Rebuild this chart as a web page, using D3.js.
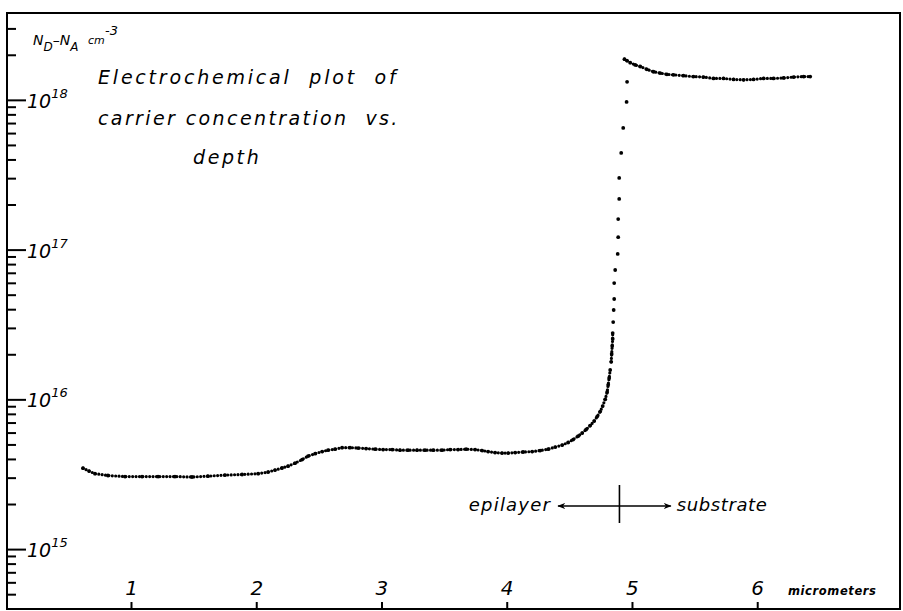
<!DOCTYPE html>
<meta charset="utf-8">

<head>
    <style type="text/css">
        body { margin: 0; background: #fff; }
        text { font-family: "DejaVu Sans", sans-serif; font-style: italic; fill: #000; }
        .frame { fill: none; stroke: #000; stroke-width: 2; }
        .tick line { stroke: #000; stroke-width: 2; }
        .dot { fill: #000; }
        .trace { fill: none; stroke: #000; stroke-width: 3.2; stroke-linecap: round; stroke-dasharray: 0 3.4; }
        .marker-line { stroke: #000; stroke-width: 1.6; fill: none; }
    </style>
</head>

<body>
    <script src="https://cdn.jsdelivr.net/npm/d3@7/dist/d3.min.js"></script>

    <script>
        // depth below surface (micrometers)
        var depth = [
            0.617, 0.665, 0.712, 0.816, 0.952, 1.088, 1.216, 1.351, 1.487, 1.615,
            1.751, 1.887, 2.015, 2.094, 2.150, 2.206, 2.254, 2.310, 2.366, 2.414,
            2.470, 2.526, 2.573, 2.629, 2.685, 2.749, 2.813, 2.877, 2.949, 3.013,
            3.085, 3.148, 3.212, 3.284, 3.348, 3.412, 3.484, 3.548, 3.612, 3.676,
            3.748, 3.804, 3.851, 3.907, 3.963, 4.011, 4.067, 4.131, 4.203, 4.267,
            4.331, 4.387, 4.443, 4.490, 4.530, 4.570, 4.602, 4.634, 4.666, 4.698,
            4.722, 4.746, 4.766,
            4.786, 4.802, 4.810, 4.818, 4.826, 4.834, 4.838, 4.842, 4.846, 4.846,
            4.850, 4.854, 4.858, 4.858, 4.866, 4.886, 4.890, 4.890, 4.898, 4.898,
            4.914, 4.930, 4.957, 4.961,
            4.940, 4.959, 4.986, 5.026, 5.066, 5.119, 5.172, 5.225, 5.279, 5.332,
            5.411, 5.491, 5.571, 5.651, 5.731, 5.811, 5.891, 5.971, 6.051, 6.130,
            6.210, 6.290, 6.370, 6.423
        ];

        // N_D - N_A in cm^-3
        var conc = [
            3.47e15, 3.32e15, 3.19e15, 3.10e15, 3.05e15, 3.05e15, 3.05e15, 3.05e15, 3.03e15, 3.07e15,
            3.12e15, 3.15e15, 3.19e15, 3.27e15, 3.37e15, 3.48e15, 3.58e15, 3.75e15, 3.96e15, 4.18e15,
            4.34e15, 4.48e15, 4.58e15, 4.65e15, 4.76e15, 4.76e15, 4.73e15, 4.69e15, 4.65e15, 4.62e15,
            4.62e15, 4.58e15, 4.58e15, 4.58e15, 4.58e15, 4.58e15, 4.58e15, 4.62e15, 4.62e15, 4.65e15,
            4.62e15, 4.55e15, 4.48e15, 4.41e15, 4.38e15, 4.38e15, 4.41e15, 4.45e15, 4.48e15, 4.55e15,
            4.65e15, 4.80e15, 4.95e15, 5.15e15, 5.39e15, 5.68e15, 5.95e15, 6.29e15, 6.68e15, 7.16e15,
            7.67e15, 8.29e15, 9.02e15,
            1.00e16, 1.12e16, 1.25e16, 1.39e16, 1.57e16, 1.78e16, 2.01e16, 2.27e16, 2.53e16, 2.77e16,
            3.28e16, 3.95e16, 4.68e16, 5.98e16, 7.31e16, 9.35e16, 1.21e17, 1.60e17, 2.18e17, 3.01e17,
            4.42e17, 6.49e17, 9.68e17, 1.32e18,
            1.87e18, 1.83e18, 1.77e18, 1.71e18, 1.67e18, 1.60e18, 1.54e18, 1.51e18, 1.48e18, 1.47e18,
            1.45e18, 1.43e18, 1.42e18, 1.39e18, 1.39e18, 1.37e18, 1.36e18, 1.37e18, 1.39e18, 1.39e18,
            1.40e18, 1.42e18, 1.43e18, 1.43e18
        ];

        var xTicks = [1, 2, 3, 4, 5, 6];
        var decades = [15, 16, 17, 18];
        var titleLines = ["Electrochemical  plot  of", "carrier concentration  vs.", "depth"];
        var junctionDepth = 4.9;      // epilayer / substrate boundary
        var annotationLevel = 1.94e15;

        var W = 903, H = 611;
        var margin = { top: 13, right: 3, bottom: 2, left: 7 };

        var x = d3.scaleLinear()
            .domain([0.01, 7.14])
            .range([margin.left, W - margin.right]);

        var y = d3.scaleLog()
            .domain([Math.pow(10, 14.6), Math.pow(10, 18.58)])
            .range([H - margin.bottom, margin.top]);

        var svg = d3.select("body").append("svg")
            .attr("width", W)
            .attr("height", H);

        // frame
        svg.append("rect")
            .attr("class", "frame")
            .attr("x", margin.left)
            .attr("y", margin.top)
            .attr("width", W - margin.left - margin.right)
            .attr("height", H - margin.top - margin.bottom);

        // minor ticks 2..9 of every decade inside the range
        var minor = [];
        [14, 15, 16, 17, 18].forEach(function (e) {
            for (var m = 2; m <= 9; m++) {
                var v = m * Math.pow(10, e);
                if (y(v) > margin.top + 3 && y(v) < H - margin.bottom - 3) minor.push(v);
            }
        });

        svg.append("g")
            .attr("transform", "translate(" + margin.left + ",0)")
            .call(d3.axisRight(y).tickValues(minor).tickSize(9).tickFormat(""))
            .call(function (g) { g.select(".domain").remove(); });

        var major = decades.map(function (e) { return Math.pow(10, e); });
        svg.append("g")
            .attr("transform", "translate(" + margin.left + ",0)")
            .call(d3.axisRight(y).tickValues(major).tickSize(19).tickFormat(""))
            .call(function (g) { g.select(".domain").remove(); });

        // decade labels 10^n
        var lab = svg.selectAll(".ylab")
            .data(decades)
            .enter().append("text")
            .attr("class", "ylab")
            .attr("x", margin.left + 20)
            .attr("y", function (e) { return y(Math.pow(10, e)) + 8; })
            .style("font-size", "19px");
        lab.append("tspan").text("10");
        lab.append("tspan")
            .attr("dy", -10)
            .style("font-size", "13px")
            .text(function (e) { return e; });

        // x axis: short ticks pointing up, labels above
        svg.append("g")
            .attr("transform", "translate(0," + (H - margin.bottom) + ")")
            .call(d3.axisTop(x).tickValues(xTicks).tickSize(7).tickPadding(7).tickFormat(d3.format("d")))
            .call(function (g) {
                g.select(".domain").remove();
                g.selectAll("text")
                    .style("font-size", "20px")
                    .style("font-family", "'DejaVu Sans', sans-serif")
                    .style("font-style", "italic");
            });

        svg.append("text")
            .attr("x", 788)
            .attr("y", 595)
            .style("font-size", "11.5px")
            .style("font-weight", "bold")
            .style("letter-spacing", "0.6px")
            .text("micrometers");

        // y axis title  N_D - N_A  cm^-3
        var yt = svg.append("text")
            .attr("x", 33)
            .attr("y", 45)
            .style("font-size", "14px");
        yt.append("tspan").text("N");
        yt.append("tspan").attr("dy", 6).style("font-size", "12px").text("D");
        yt.append("tspan").attr("dy", -6).text("\u2013N");
        yt.append("tspan").attr("dy", 6).style("font-size", "12px").text("A");
        svg.append("text")
            .attr("x", 88)
            .attr("y", 44)
            .style("font-size", "11px")
            .text("cm");
        svg.append("text")
            .attr("x", 105)
            .attr("y", 35)
            .style("font-size", "13px")
            .text("-3");

        // title block
        svg.append("text")
            .attr("x", 98).attr("y", 84)
            .style("font-size", "19px").style("letter-spacing", "2.8px")
            .style("white-space", "pre")
            .text(titleLines[0]);
        svg.append("text")
            .attr("x", 98).attr("y", 125)
            .style("font-size", "19px").style("letter-spacing", "2.4px")
            .style("white-space", "pre")
            .text(titleLines[1]);
        svg.append("text")
            .attr("x", 193).attr("y", 164)
            .style("font-size", "19px").style("letter-spacing", "2.6px")
            .text(titleLines[2]);

        // data: neighbouring readings close in level form a beaded trace,
        // every reading is also drawn as a dot
        var pts = depth.map(function (d, i) { return [x(d), y(conc[i])]; });
        var runs = [], run = [pts[0]];
        for (var i = 1; i < pts.length; i++) {
            var dx = Math.abs(pts[i][0] - pts[i - 1][0]), dy = Math.abs(pts[i][1] - pts[i - 1][1]);
            if (dy < 8 && dx < 20) {
                run.push(pts[i]);
            } else {
                runs.push(run);
                run = [pts[i]];
            }
        }
        runs.push(run);

        var line = d3.line();
        svg.selectAll(".trace")
            .data(runs.filter(function (r) { return r.length > 1; }))
            .enter().append("path")
            .attr("class", "trace")
            .attr("d", line);

        svg.selectAll(".dot")
            .data(pts)
            .enter().append("circle")
            .attr("class", "dot")
            .attr("cx", function (p) { return p[0]; })
            .attr("cy", function (p) { return p[1]; })
            .attr("r", 1.9);

        // epilayer <-|-> substrate annotation
        var defs = svg.append("defs");
        defs.append("marker")
            .attr("id", "head")
            .attr("viewBox", "0 0 10 10")
            .attr("refX", 9).attr("refY", 5)
            .attr("markerWidth", 5).attr("markerHeight", 5)
            .attr("orient", "auto-start-reverse")
            .append("path")
            .attr("d", "M0,1 L10,5 L0,9 L3,5 z")
            .attr("fill", "#000");

        var jx = x(junctionDepth), jy = y(annotationLevel);
        svg.append("line")
            .attr("class", "marker-line")
            .attr("x1", jx).attr("x2", jx)
            .attr("y1", jy - 21).attr("y2", jy + 17);
        svg.append("line")
            .attr("class", "marker-line")
            .attr("x1", jx).attr("x2", x(4.41))
            .attr("y1", jy).attr("y2", jy)
            .attr("marker-end", "url(#head)");
        svg.append("line")
            .attr("class", "marker-line")
            .attr("x1", jx).attr("x2", x(5.31))
            .attr("y1", jy).attr("y2", jy)
            .attr("marker-end", "url(#head)");

        svg.append("text")
            .attr("x", x(4.41) - 7).attr("y", jy + 5)
            .attr("text-anchor", "end")
            .style("font-size", "18px").style("letter-spacing", "1.2px")
            .text("epilayer");
        svg.append("text")
            .attr("x", x(5.31) + 6).attr("y", jy + 5)
            .style("font-size", "18px").style("letter-spacing", "0.6px")
            .text("substrate");
    </script>
</body>
